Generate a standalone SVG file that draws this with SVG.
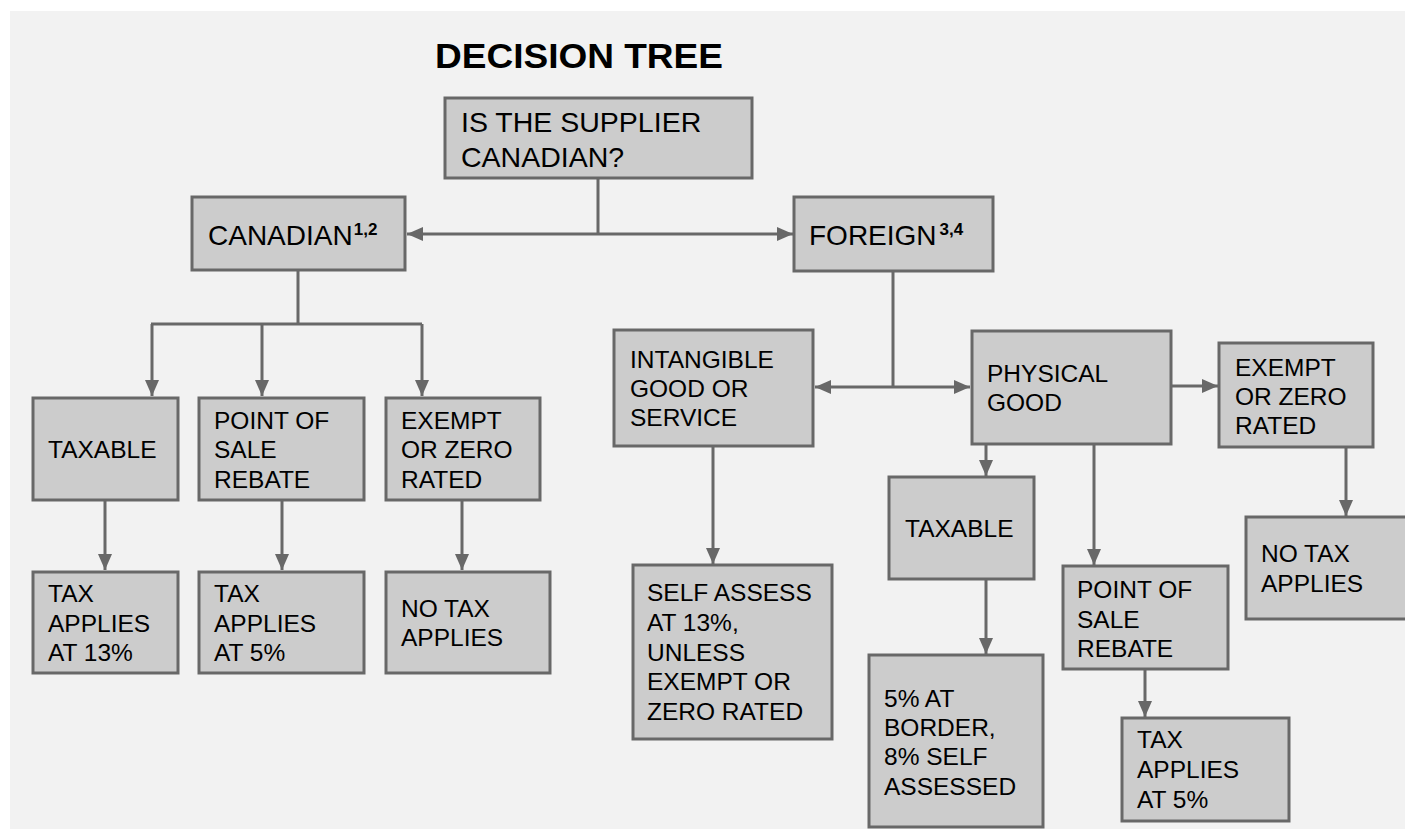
<svg xmlns="http://www.w3.org/2000/svg" width="1405" height="829" viewBox="0 0 1405 829">
<style>
.box{fill:#cccccc;stroke:#686868;stroke-width:3}
.t{font-family:"Liberation Sans",Arial,Helvetica,sans-serif;font-size:24.5px;fill:#000}
.tl{font-family:"Liberation Sans",Arial,Helvetica,sans-serif;font-size:28px;fill:#000}
.sup{font-size:17px;font-weight:bold}
.c{fill:none;stroke:#686868;stroke-width:3}
.a{marker-end:url(#arr)}
</style>
<defs>
<marker id="arr" markerUnits="userSpaceOnUse" markerWidth="17" markerHeight="15" refX="16" refY="7" orient="auto">
<path d="M0,0 L16,7 L0,14 Z" fill="#686868"/>
</marker>
</defs>
<rect x="0" y="0" width="1405" height="829" fill="#ffffff"/>
<rect x="10" y="11" width="1395" height="818" fill="#f2f2f2"/>
<text x="435" y="68" font-family="'Liberation Sans',Arial,Helvetica,sans-serif" font-size="35" font-weight="bold" textLength="288" lengthAdjust="spacingAndGlyphs" fill="#000">DECISION TREE</text>

<g id="connectors">
<path class="c" d="M598,178 V234"/>
<path class="c a" d="M598,234 H407"/>
<path class="c a" d="M598,234 H793"/>
<path class="c" d="M298,270 V324 M151,324 H422"/>
<path class="c a" d="M152,324 V396"/>
<path class="c a" d="M262,324 V396"/>
<path class="c a" d="M422,324 V396"/>
<path class="c a" d="M105,500 V570"/>
<path class="c a" d="M282,500 V570"/>
<path class="c a" d="M462,500 V570"/>
<path class="c" d="M893,271 V387"/>
<path class="c a" d="M893,387 H815"/>
<path class="c a" d="M893,387 H970"/>
<path class="c a" d="M1171,386 H1218"/>
<path class="c a" d="M713,446 V564"/>
<path class="c a" d="M986,444 V476"/>
<path class="c a" d="M986,579 V654"/>
<path class="c a" d="M1094,444 V565"/>
<path class="c a" d="M1145,669 V717"/>
<path class="c a" d="M1346,447 V516"/>
</g>

<g id="n-question">
<rect class="box" x="445" y="98" width="307" height="80"/>
<text class="tl" style="font-size:28.5px" x="461" y="132">IS THE SUPPLIER</text>
<text class="tl" style="font-size:28.5px" x="461" y="167">CANADIAN?</text>
</g>

<g id="n-canadian">
<rect class="box" x="192" y="197" width="213" height="73"/>
<text class="tl" x="208" y="245">CANADIAN<tspan class="sup" dx="1" dy="-10">1,2</tspan></text>
</g>

<g id="n-foreign">
<rect class="box" x="794" y="197" width="199" height="74"/>
<text class="tl" x="809" y="245">FOREIGN<tspan class="sup" dx="3" dy="-10">3,4</tspan></text>
</g>

<g id="n-taxable-ca">
<rect class="box" x="33" y="398" width="145" height="102"/>
<text class="t" x="48" y="458">TAXABLE</text>
</g>

<g id="n-pos-ca">
<rect class="box" x="199" y="398" width="165" height="102"/>
<text class="t" x="214" y="429">POINT OF</text>
<text class="t" x="214" y="458">SALE</text>
<text class="t" x="214" y="488">REBATE</text>
</g>

<g id="n-exempt-ca">
<rect class="box" x="386" y="398" width="154" height="102"/>
<text class="t" x="401" y="429">EXEMPT</text>
<text class="t" x="401" y="458">OR ZERO</text>
<text class="t" x="401" y="488">RATED</text>
</g>

<g id="n-tax13">
<rect class="box" x="33" y="572" width="145" height="101"/>
<text class="t" x="48" y="602">TAX</text>
<text class="t" x="48" y="632">APPLIES</text>
<text class="t" x="48" y="661">AT 13%</text>
</g>

<g id="n-tax5-ca">
<rect class="box" x="199" y="572" width="165" height="101"/>
<text class="t" x="214" y="602">TAX</text>
<text class="t" x="214" y="632">APPLIES</text>
<text class="t" x="214" y="661">AT 5%</text>
</g>

<g id="n-notax-ca">
<rect class="box" x="386" y="572" width="164" height="101"/>
<text class="t" x="401" y="617">NO TAX</text>
<text class="t" x="401" y="646">APPLIES</text>
</g>

<g id="n-intangible">
<rect class="box" x="614" y="330" width="199" height="116"/>
<text class="t" x="630" y="368">INTANGIBLE</text>
<text class="t" x="630" y="397">GOOD OR</text>
<text class="t" x="630" y="426">SERVICE</text>
</g>

<g id="n-physical">
<rect class="box" x="972" y="331" width="199" height="113"/>
<text class="t" x="987" y="382">PHYSICAL</text>
<text class="t" x="987" y="411">GOOD</text>
</g>

<g id="n-exempt-fo">
<rect class="box" x="1219" y="343" width="154" height="104"/>
<text class="t" x="1235" y="376">EXEMPT</text>
<text class="t" x="1235" y="405">OR ZERO</text>
<text class="t" x="1235" y="434">RATED</text>
</g>

<g id="n-selfassess">
<rect class="box" x="633" y="565" width="199" height="174"/>
<text class="t" x="647" y="601">SELF ASSESS</text>
<text class="t" x="647" y="631">AT 13%,</text>
<text class="t" x="647" y="661">UNLESS</text>
<text class="t" x="647" y="690">EXEMPT OR</text>
<text class="t" x="647" y="720">ZERO RATED</text>
</g>

<g id="n-taxable-fo">
<rect class="box" x="889" y="477" width="145" height="102"/>
<text class="t" x="905" y="537">TAXABLE</text>
</g>

<g id="n-border">
<rect class="box" x="869" y="655" width="174" height="172"/>
<text class="t" x="884" y="707">5% AT</text>
<text class="t" x="884" y="736">BORDER,</text>
<text class="t" x="884" y="765">8% SELF</text>
<text class="t" x="884" y="795">ASSESSED</text>
</g>

<g id="n-pos-fo">
<rect class="box" x="1063" y="566" width="165" height="103"/>
<text class="t" x="1077" y="598">POINT OF</text>
<text class="t" x="1077" y="628">SALE</text>
<text class="t" x="1077" y="657">REBATE</text>
</g>

<g id="n-tax5-fo">
<rect class="box" x="1122" y="718" width="167" height="103"/>
<text class="t" x="1137" y="748">TAX</text>
<text class="t" x="1137" y="778">APPLIES</text>
<text class="t" x="1137" y="808">AT 5%</text>
</g>

<g id="n-notax-fo">
<rect class="box" x="1246" y="517" width="170" height="102"/>
<text class="t" x="1261" y="562">NO TAX</text>
<text class="t" x="1261" y="592">APPLIES</text>
</g>
</svg>
